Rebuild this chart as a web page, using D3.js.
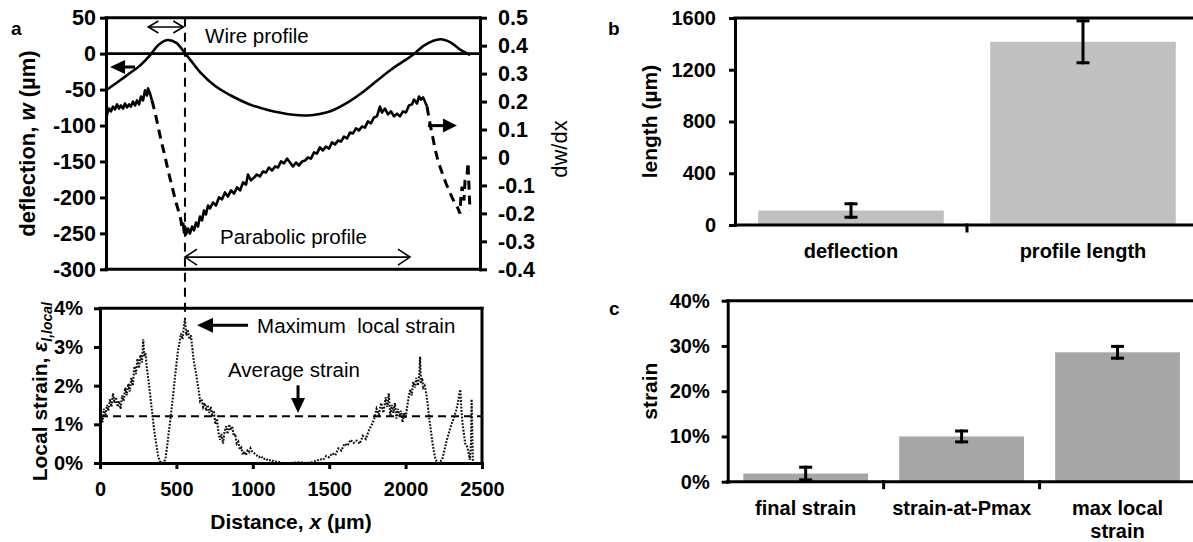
<!DOCTYPE html>
<html>
<head>
<meta charset="utf-8">
<script src="https://cdn.jsdelivr.net/npm/d3@7"></script>
<style>
  body { margin: 0; background: #fff; }
  svg text { font-family: "Liberation Sans", Arial, sans-serif; fill: #000; }
</style>
</head>
<body>
<svg id="fig" width="1193" height="542"></svg>
<script>
// ---- panel a (top): wire profile w(x) and its slope dw/dx ----
const wireDist = [0, 95, 160, 225, 295, 350, 410, 470, 530, 580, 630, 730, 850, 965, 1075, 1250, 1345, 1500, 1630, 1720, 1900, 2050, 2130, 2235, 2300, 2365, 2435];
const wireDeflection = [-51, -37, -27, -17, -2, 12, 19, 15, 0, -13, -26, -45, -60, -71, -78, -85, -86, -80, -66, -53, -23, -2, 12, 20, 16, 6, -2];

const slopeDist = [0, 7, 20, 33, 47, 60, 74, 87, 100, 114, 127, 140, 154, 167, 180, 194, 207, 221, 234, 247, 261, 274, 281, 294, 307,
  328, 348, 368, 388, 408, 428, 448, 468, 488, 501, 508,
  515, 521, 528, 535, 548, 561, 575, 588, 602, 615, 628, 642, 655, 668, 682, 695, 715, 735, 755, 775, 795, 815, 836, 856, 876, 896,
  916, 936, 949, 969, 989, 1009, 1029, 1049, 1069, 1089, 1110, 1130, 1150, 1170, 1190, 1210, 1230, 1250, 1270, 1290, 1310, 1330,
  1350, 1370, 1390, 1410, 1430, 1450, 1470, 1491, 1511, 1531, 1551, 1571, 1591, 1611, 1631, 1651, 1671, 1691, 1711, 1731, 1751,
  1771, 1791, 1811, 1831, 1845, 1865, 1885, 1905, 1925, 1945, 1965, 1985, 2005, 2025, 2045, 2059, 2079, 2092, 2105, 2119, 2132, 2146,
  2159, 2172, 2186, 2199, 2212, 2232, 2253, 2273, 2293, 2313, 2333, 2353, 2366,
  2373, 2380, 2393, 2400, 2413, 2420, 2426, 2433];
const slopeValue = [0.122, 0.154, 0.175, 0.165, 0.182, 0.172, 0.190, 0.175, 0.186, 0.175, 0.193, 0.179, 0.190, 0.182, 0.200, 0.186, 0.204, 0.190, 0.218, 0.204, 0.240, 0.222, 0.247, 0.229, 0.204,
  0.161, 0.111, 0.061, 0.018, -0.029, -0.075, -0.118, -0.161, -0.197, -0.225, -0.254,
  -0.233, -0.268, -0.247, -0.275, -0.254, -0.272, -0.247, -0.261, -0.233, -0.247, -0.211, -0.225, -0.190, -0.204, -0.172, -0.182, -0.161, -0.172, -0.143, -0.150, -0.125, -0.140, -0.118, -0.129, -0.107, -0.118,
  -0.089, -0.097, -0.061, -0.082, -0.072, -0.061, -0.068, -0.050, -0.054, -0.036, -0.047, -0.032, -0.036, -0.014, -0.021, -0.004, -0.018, -0.032, -0.018, -0.029, -0.014, -0.011,
  0.000, -0.004, 0.018, 0.014, 0.036, 0.025, 0.039, 0.032, 0.054, 0.047, 0.061, 0.057, 0.075, 0.068, 0.089, 0.086, 0.104, 0.097, 0.111, 0.107, 0.129,
  0.122, 0.143, 0.147, 0.182, 0.161, 0.175, 0.154, 0.165, 0.147, 0.157, 0.147, 0.165, 0.161, 0.186, 0.190, 0.207, 0.193, 0.218, 0.207, 0.215, 0.200, 0.182,
  0.140, 0.104, 0.068, 0.032, 0.004, -0.032, -0.064, -0.093, -0.118, -0.143, -0.165, -0.182, -0.200,
  -0.136, -0.104, -0.154, -0.082, -0.064, -0.018, -0.100, -0.190];

const deflectionTicks = [50, 0, -50, -100, -150, -200, -250, -300];
const slopeTicks = [0.5, 0.4, 0.3, 0.2, 0.1, 0, -0.1, -0.2, -0.3, -0.4];

// ---- panel a (bottom): local strain along the wire ----
const strainDist = [0, 8, 16, 25, 35, 45, 55, 65, 75, 85, 95, 105, 115, 125, 135, 145, 155, 165, 175, 185, 195, 205, 215, 225, 235, 245, 255, 265, 275, 283, 290, 298, 305,
  312, 320, 330, 340, 350, 360, 370, 380, 390, 400, 410, 420, 430, 440, 450, 460, 470, 480, 490, 500, 510, 520, 530, 540, 548, 556, 565, 575, 585, 595, 605, 615, 625, 635, 645, 655,
  665, 675, 685, 695, 705, 715, 725, 735, 745, 755, 765, 775, 785, 795, 805, 815, 825, 835, 845, 855, 865, 875, 885, 895, 905, 915, 925, 935, 945, 955, 965, 975, 985, 995,
  1010, 1025, 1040, 1055, 1070, 1085, 1100, 1120, 1140, 1160, 1180, 1200, 1250, 1300, 1350, 1380, 1400, 1420, 1440, 1460, 1480, 1500, 1520, 1540, 1560, 1580, 1600, 1620,
  1640, 1660, 1680, 1700, 1720, 1740, 1760, 1780, 1795, 1810, 1825, 1840, 1855, 1870, 1880, 1890, 1900, 1910, 1920, 1930, 1940, 1950, 1960, 1970, 1980, 1990, 2000,
  2010, 2020, 2030, 2040, 2050, 2060, 2070, 2080, 2090, 2095, 2100, 2108, 2116, 2125, 2135, 2145, 2155, 2165, 2175, 2185, 2195, 2205, 2215, 2225, 2240, 2255, 2270,
  2285, 2300, 2315, 2330, 2340, 2350, 2358, 2365, 2372, 2380, 2390, 2400, 2410, 2420, 2428, 2432, 2436, 2440];
const strainPercent = [0.85, 1.25, 1.05, 1.4, 1.2, 1.5, 1.35, 1.65, 1.45, 1.8, 1.55, 1.7, 1.45, 1.6, 1.4, 1.75, 1.6, 1.95, 1.75, 2.05, 1.85, 2.2, 2.0, 2.5, 2.3, 2.7, 2.45, 2.8, 2.6, 3.2, 2.75, 2.85, 2.5,
  2.3, 2.05, 1.7, 1.35, 1.0, 0.7, 0.45, 0.2, 0.05, 0, 0, 0.02, 0.15, 0.45, 0.8, 1.1, 1.45, 1.8, 2.2, 2.55, 2.9, 3.1, 3.35, 3.2, 3.5, 3.72, 3.3, 3.45, 3.2, 3.3, 2.95, 2.6, 2.4, 2.15, 1.9, 1.6,
  1.65, 1.45, 1.55, 1.35, 1.5, 1.3, 1.45, 1.2, 1.35, 1.0, 1.15, 0.8, 0.6, 0.75, 0.5, 0.8, 0.95, 0.75, 1.0, 0.85, 0.95, 0.7, 0.75, 0.5, 0.55, 0.35, 0.4, 0.22, 0.3, 0.2, 0.32, 0.28, 0.38, 0.3,
  0.25, 0.2, 0.15, 0.18, 0.1, 0.12, 0.06, 0.08, 0.03, 0.04, 0.01, 0, 0, 0.02, 0, 0.01, 0.04, 0.06, 0.1, 0.08, 0.18, 0.15, 0.25, 0.2, 0.38, 0.32, 0.5, 0.45,
  0.6, 0.52, 0.58, 0.5, 0.7, 0.62, 0.85, 1.0, 1.15, 1.4, 1.25, 1.55, 1.3, 1.7, 1.45, 1.8, 1.2, 1.5, 1.3, 1.55, 1.15, 1.4, 1.2, 1.35, 1.05, 1.3, 1.15,
  1.45, 1.7, 1.9, 1.75, 2.1, 1.95, 2.2, 2.0, 2.3, 2.75, 2.05, 2.2, 1.95, 2.0, 1.8, 1.5, 1.15, 0.85, 0.55, 0.3, 0.1, 0.03, 0, 0.02, 0.1, 0.35, 0.6,
  0.8, 1.0, 1.15, 1.35, 1.5, 1.75, 1.9, 1.4, 1.05, 0.8, 0.5, 0.45, 0.3, 0.08, 0.5, 1.65, 0.9, 0.05];
const averageStrain = 1.21;       // %
const maxStrainDist = 556;        // µm, location of the strain peak
const strainTicks = [0, 1, 2, 3, 4];
const distTicks = [0, 500, 1000, 1500, 2000, 2500];

// ---- panel b: lengths ----
const lengthCats = ["deflection", "profile length"];
const lengthMean = [112, 1416];
const lengthErr = [52, 162];
const lengthTicks = [0, 400, 800, 1200, 1600];

// ---- panel c: strains ----
const strainCats = ["final strain", "strain-at-Pmax", "max local strain"];
const strainCatLines = [["final strain"], ["strain-at-Pmax"], ["max local", "strain"]];
const strainMean = [1.8, 10.0, 28.6];
const strainErr = [1.4, 1.2, 1.3];
const strainBarTicks = [0, 10, 20, 30, 40];

// ------------------------------------------------------------------
const svg = d3.select("#fig");
const BLACK = "#000";

function styleAxis(g, size) {
  g.select(".domain").attr("stroke", BLACK).attr("stroke-width", 3).attr("stroke-linecap", "square");
  g.selectAll(".tick line").attr("stroke", BLACK).attr("stroke-width", 3);
  g.selectAll(".tick text").attr("font-weight", "bold").attr("font-size", size).attr("fill", BLACK);
  g.attr("font-family", null).attr("font-size", size);
}
function hline(g, x1, x2, y, w) {
  g.append("line").attr("x1", x1).attr("x2", x2).attr("y1", y).attr("y2", y)
    .attr("stroke", BLACK).attr("stroke-width", w || 3).attr("stroke-linecap", "square");
}
function vline(g, x, y1, y2, w) {
  g.append("line").attr("x1", x).attr("x2", x).attr("y1", y1).attr("y2", y2)
    .attr("stroke", BLACK).attr("stroke-width", w || 3).attr("stroke-linecap", "square");
}
function filledArrow(g, x1, y1, x2, y2, head, half) {
  // shaft from (x1,y1) to tip (x2,y2) with a solid triangular head
  const dx = x2 - x1, dy = y2 - y1, L = Math.hypot(dx, dy), ux = dx / L, uy = dy / L;
  const bx = x2 - ux * head, by = y2 - uy * head;
  g.append("line").attr("x1", x1).attr("y1", y1).attr("x2", bx).attr("y2", by)
    .attr("stroke", BLACK).attr("stroke-width", 3);
  g.append("path")
    .attr("d", `M${x2},${y2}L${bx - uy * half},${by + ux * half}L${bx + uy * half},${by - ux * half}Z`)
    .attr("fill", BLACK);
}
function openArrow(g, x1, y, x2, head, half, w) {
  // double-headed arrow with open chevron heads
  g.append("line").attr("x1", x1).attr("x2", x2).attr("y1", y).attr("y2", y)
    .attr("stroke", BLACK).attr("stroke-width", w);
  g.append("path").attr("d", `M${x1 + head},${y - half}L${x1},${y}L${x1 + head},${y + half}`)
    .attr("fill", "none").attr("stroke", BLACK).attr("stroke-width", w);
  g.append("path").attr("d", `M${x2 - head},${y - half}L${x2},${y}L${x2 - head},${y + half}`)
    .attr("fill", "none").attr("stroke", BLACK).attr("stroke-width", w);
}

// ================= panel a, top =================
const xTop = d3.scaleLinear().domain([0, 2500]).range([106, 480]);
const yW = d3.scaleLinear().domain([-300, 50]).range([269.3, 17.7]);
const ySlope = d3.scaleLinear().domain([-0.4, 0.5]).range([269.3, 17.7]);

const upper = svg.append("g");
hline(upper, xTop(0), xTop(2500), yW(50));
hline(upper, xTop(0), xTop(2500), yW(-300));
hline(upper, xTop(0), xTop(2500), yW(0), 2.6);

upper.append("g").attr("transform", `translate(${xTop(0)},0)`)
  .call(d3.axisLeft(yW).tickValues(deflectionTicks).tickSize(6).tickPadding(4).tickSizeOuter(0).tickFormat(d => String(d)))
  .call(g => styleAxis(g, 21.5));
upper.append("g").attr("transform", `translate(${xTop(2500)},0)`)
  .call(d3.axisRight(ySlope).tickValues(slopeTicks).tickSize(7).tickPadding(11).tickSizeOuter(0)
    .tickFormat(d => d === 0 ? "0" : d.toFixed(1)))
  .call(g => styleAxis(g, 21.5));

// wire profile
const wirePts = wireDist.map((d, i) => [d, wireDeflection[i]]);
upper.append("path").datum(wirePts)
  .attr("d", d3.line().x(d => xTop(d[0])).y(d => yW(d[1])).curve(d3.curveCatmullRom))
  .attr("fill", "none").attr("stroke", BLACK).attr("stroke-width", 2.6);

// slope dw/dx: steep runs drawn dashed
const slopePts = slopeDist.map((d, i) => [d, slopeValue[i]]);
const steepRuns = [[307, 515], [2146, 2433]];
const inSteep = d => steepRuns.some(r => d[0] >= r[0] && d[0] <= r[1]);
const inFlat = d => !steepRuns.some(r => d[0] > r[0] && d[0] < r[1]);
upper.append("path").datum(slopePts).attr("d", d3.line().x(d => xTop(d[0])).y(d => ySlope(d[1])).defined(inFlat))
  .attr("fill", "none").attr("stroke", BLACK).attr("stroke-width", 2.6).attr("stroke-linejoin", "round");
upper.append("path").datum(slopePts).attr("d", d3.line().x(d => xTop(d[0])).y(d => ySlope(d[1])).defined(inSteep))
  .attr("fill", "none").attr("stroke", BLACK).attr("stroke-width", 3).attr("stroke-dasharray", "9,6");

// annotations
openArrow(upper, xTop(283), yW(37), xTop(517), 10, 6, 1.6);
upper.append("text").attr("x", xTop(662)).attr("y", yW(14.7)).attr("font-size", 20.5).text("Wire profile");
openArrow(upper, xTop(528), yW(-283), xTop(2032), 12, 8, 1.6);
upper.append("text").attr("x", xTop(762)).attr("y", yW(-265)).attr("font-size", 20.5).text("Parabolic profile");
filledArrow(upper, xTop(194), yW(-18.6), xTop(27), yW(-18.6), 15, 7);
filledArrow(upper, xTop(2152), ySlope(0.114), xTop(2346), ySlope(0.114), 14, 7);

upper.append("text").attr("transform", `translate(35,${(yW(50) + yW(-300)) / 2}) rotate(-90)`)
  .attr("text-anchor", "middle").attr("font-weight", "bold").attr("font-size", 22)
  .call(t => {
    t.append("tspan").text("deflection, ");
    t.append("tspan").attr("font-style", "italic").text("w");
    t.append("tspan").text(" (µm)");
  });
upper.append("text").attr("transform", `translate(567,${ySlope(0.03)}) rotate(-90)`)
  .attr("text-anchor", "middle").attr("font-size", 22).text("dw/dx");
svg.append("text").attr("x", 11).attr("y", 35).attr("font-weight", "bold").attr("font-size", 19).text("a");

// ================= panel a, bottom =================
const xDist = d3.scaleLinear().domain([0, 2500]).range([100, 482]);
const yStrain = d3.scaleLinear().domain([0, 4]).range([463, 308.3]);
const lower = svg.append("g");
hline(lower, xDist(0), xDist(2500), yStrain(4));
vline(lower, xDist(2500), yStrain(4), yStrain(0));

// average strain
lower.append("line").attr("x1", xDist(0)).attr("x2", xDist(2500))
  .attr("y1", yStrain(averageStrain)).attr("y2", yStrain(averageStrain))
  .attr("stroke", BLACK).attr("stroke-width", 2).attr("stroke-dasharray", "8,5");

// local strain, dotted
const strainPts = strainDist.map((d, i) => [d, strainPercent[i]]);
lower.append("path").datum(strainPts)
  .attr("d", d3.line().x(d => xDist(d[0])).y(d => yStrain(d[1])))
  .attr("fill", "none").attr("stroke", "#111").attr("stroke-width", 2.1)
  .attr("stroke-dasharray", "1.8,1.5");

lower.append("g").attr("transform", `translate(${xDist(0)},0)`)
  .call(d3.axisLeft(yStrain).tickValues(strainTicks).tickSize(6).tickPadding(11).tickSizeOuter(0).tickFormat(d => d + "%"))
  .call(g => styleAxis(g, 20));
lower.append("g").attr("transform", `translate(0,${yStrain(0)})`)
  .call(d3.axisBottom(xDist).tickValues(distTicks).tickSize(6).tickPadding(13).tickSizeOuter(0).tickFormat(d => String(d)))
  .call(g => styleAxis(g, 20));

lower.append("text").attr("transform", `translate(47,${(yStrain(4) + yStrain(0)) / 2 + 6}) rotate(-90)`)
  .attr("text-anchor", "middle").attr("font-weight", "bold").attr("font-size", 21)
  .call(t => {
    t.append("tspan").text("Local strain, ");
    t.append("tspan").attr("font-style", "italic").text("ε");
    t.append("tspan").attr("font-style", "italic").attr("font-size", 14).attr("dy", 5).text("l,local");
  });
lower.append("text").attr("x", xDist(1250)).attr("y", 529).attr("text-anchor", "middle")
  .attr("font-weight", "bold").attr("font-size", 21)
  .call(t => {
    t.append("tspan").text("Distance, ");
    t.append("tspan").attr("font-style", "italic").text("x");
    t.append("tspan").text(" (µm)");
  });

filledArrow(lower, xDist(969), yStrain(3.56), xDist(635), yStrain(3.56), 16, 7.5);
lower.append("text").attr("x", xDist(1028)).attr("y", yStrain(3.35)).attr("font-size", 20.5)
  .style("white-space", "pre").text("Maximum  local strain");
filledArrow(lower, xDist(1296), yStrain(2.01), xDist(1296), yStrain(1.29), 15, 7);
lower.append("text").attr("x", xDist(838)).attr("y", yStrain(2.22)).attr("font-size", 20.5).text("Average strain");

// marker through the strain peak, spanning both plots
svg.append("line").attr("x1", xDist(maxStrainDist)).attr("x2", xDist(maxStrainDist))
  .attr("y1", yW(50)).attr("y2", yStrain(3.72))
  .attr("stroke", BLACK).attr("stroke-width", 2).attr("stroke-dasharray", "9,6");

// ================= panel b =================
const xLen = d3.scaleBand().domain(lengthCats).range([735, 1199]).paddingInner(0.2).paddingOuter(0.1);
const yLen = d3.scaleLinear().domain([0, 1600]).range([225, 18]);
const pb = svg.append("g");
pb.selectAll("rect").data(lengthCats).join("rect")
  .attr("x", d => xLen(d)).attr("width", xLen.bandwidth())
  .attr("y", (d, i) => yLen(lengthMean[i])).attr("height", (d, i) => yLen(0) - yLen(lengthMean[i]))
  .attr("fill", "#c0c0c0");
lengthCats.forEach((c, i) => {
  const cx = xLen(c) + xLen.bandwidth() / 2;
  vline(pb, cx, yLen(lengthMean[i] + lengthErr[i]), yLen(lengthMean[i] - lengthErr[i]), 3);
  hline(pb, cx - 5, cx + 5, yLen(lengthMean[i] + lengthErr[i]), 3);
  hline(pb, cx - 5, cx + 5, yLen(lengthMean[i] - lengthErr[i]), 3);
  pb.append("text").attr("x", cx).attr("y", 258).attr("text-anchor", "middle")
    .attr("font-weight", "bold").attr("font-size", 20).text(c);
});
hline(pb, 735, 1199, yLen(1600));
hline(pb, 735, 1199, yLen(0));
for (let i = 1; i < lengthCats.length; i++) vline(pb, 735 + i * xLen.step(), yLen(0), yLen(0) + 6, 3);
pb.append("g").attr("transform", "translate(735,0)")
  .call(d3.axisLeft(yLen).tickValues(lengthTicks).tickSize(6).tickPadding(13).tickSizeOuter(0).tickFormat(d => String(d)))
  .call(g => styleAxis(g, 20));
pb.append("text").attr("transform", `translate(657,${(yLen(0) + yLen(1600)) / 2}) rotate(-90)`)
  .attr("text-anchor", "middle").attr("font-weight", "bold").attr("font-size", 21).text("length (µm)");
svg.append("text").attr("x", 608).attr("y", 35).attr("font-weight", "bold").attr("font-size", 19).text("b");

// ================= panel c =================
const xStr = d3.scaleBand().domain(strainCats).range([727.7, 1195.5]).paddingInner(0.2).paddingOuter(0.1);
const yStr = d3.scaleLinear().domain([0, 40]).range([481.7, 300.7]);
const pc = svg.append("g");
pc.selectAll("rect").data(strainCats).join("rect")
  .attr("x", d => xStr(d)).attr("width", xStr.bandwidth())
  .attr("y", (d, i) => yStr(strainMean[i])).attr("height", (d, i) => yStr(0) - yStr(strainMean[i]))
  .attr("fill", "#a6a6a6");
strainCats.forEach((c, i) => {
  const cx = xStr(c) + xStr.bandwidth() / 2;
  vline(pc, cx, yStr(strainMean[i] + strainErr[i]), yStr(strainMean[i] - strainErr[i]), 3);
  hline(pc, cx - 5, cx + 5, yStr(strainMean[i] + strainErr[i]), 3);
  hline(pc, cx - 5, cx + 5, yStr(strainMean[i] - strainErr[i]), 3);
  strainCatLines[i].forEach((ln, k) => {
    pc.append("text").attr("x", cx).attr("y", 515 + k * 23).attr("text-anchor", "middle")
      .attr("font-weight", "bold").attr("font-size", 20).text(ln);
  });
});
hline(pc, 727.7, 1195.5, yStr(40));
hline(pc, 727.7, 1195.5, yStr(0));
for (let i = 1; i < strainCats.length; i++) vline(pc, 727.7 + i * xStr.step(), yStr(0), yStr(0) + 6, 3);
pc.append("g").attr("transform", "translate(727.7,0)")
  .call(d3.axisLeft(yStr).tickValues(strainBarTicks).tickSize(6).tickPadding(12).tickSizeOuter(0).tickFormat(d => d + "%"))
  .call(g => styleAxis(g, 20));
pc.append("text").attr("transform", `translate(657,${(yStr(0) + yStr(40)) / 2}) rotate(-90)`)
  .attr("text-anchor", "middle").attr("font-weight", "bold").attr("font-size", 21).text("strain");
svg.append("text").attr("x", 609).attr("y", 315).attr("font-weight", "bold").attr("font-size", 19).text("c");
</script>
</body>
</html>
